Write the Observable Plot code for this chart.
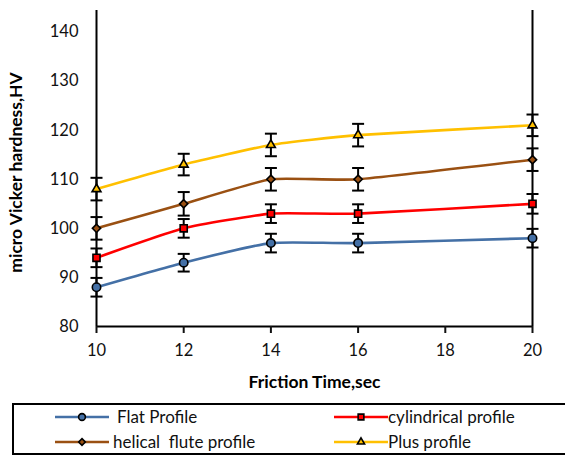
<!DOCTYPE html>
<html>
<head>
<meta charset="utf-8">
<script src="https://cdn.jsdelivr.net/npm/d3@7"></script>
<script src="https://cdn.jsdelivr.net/npm/@observablehq/plot@0.6"></script>
<style>
  body { margin: 0; background: #fff; font-family: Lato, "Open Sans", sans-serif; }
  #wrap { position: relative; width: 565px; height: 456px; overflow: hidden; background: #fff; }
  #chart { position: absolute; left: 0; top: 0; }
  #legend { position: absolute; left: 12px; top: 403px; width: 600px; height: 52px; box-sizing: border-box; border: 2px solid #000; }
  .item { position: absolute; height: 20px; }
  .item svg { position: absolute; top: 0; }
  .item span { position: absolute; top: 0; line-height: 20px; font-size: 17px; color: #111; white-space: pre; }
</style>
</head>
<body>
<div id="wrap">
  <div id="chart"></div>
  <div id="legend"></div>
</div>
<script>
// ---- data ----
const frictionTime = [10, 12, 14, 16, 20];
const seriesNames = ["Flat Profile", "cylindrical profile", "helical  flute profile", "Plus profile"];
const flatHV = [88, 93, 97, 97, 98];
const cylindricalHV = [94, 100, 103, 103, 105];
const helicalHV = [100, 105, 110, 110, 114];
const plusHV = [108, 113, 117, 119, 121];
const flatErr = [1.9, 1.8, 1.9, 1.9, 1.9];
const cylindricalErr = [1.9, 1.9, 1.9, 1.9, 2.0];
const helicalErr = [2.3, 2.4, 2.3, 2.3, 2.3];
const plusErr = [2.3, 2.2, 2.3, 2.3, 2.2];
const xTicks = [10, 12, 14, 16, 18, 20];
const yTicks = [80, 90, 100, 110, 120, 130, 140];

// ---- styles ----
const colors = ["#4470A6", "#FF0000", "#9A5012", "#FFC000"];
const symbols = ["circle", "square", "diamond2", "triangle"];
const radii = [4.2, 4, 3.7, 3.3];

const values = [flatHV, cylindricalHV, helicalHV, plusHV];
const errs = [flatErr, cylindricalErr, helicalErr, plusErr];
const rows = [];
seriesNames.forEach((s, i) => frictionTime.forEach((t, j) =>
  rows.push({series: s, idx: i, x: t, y: values[i][j], err: errs[i][j]})));

const capSymbol = { draw(ctx) { ctx.moveTo(-6, 0); ctx.lineTo(6, 0); } };

const font = "Lato, 'Open Sans', sans-serif";

const marks = [
  Plot.ruleX([10, 20], {y1: 80, y2: 144.4, stroke: "#000", strokeWidth: 2}),
  Plot.ruleY([80], {stroke: "#000", strokeWidth: 2}),
  Plot.axisX({ticks: xTicks, tickSize: 7, tickPadding: 11, fontSize: 16.5, label: null, strokeWidth: 2, tickFormat: d => String(d)}),
  Plot.axisY({ticks: yTicks, tickSize: 0, tickPadding: 18, fontSize: 16.5, label: null}),
  Plot.line(rows, {x: "x", y: "y", z: "series", stroke: "series", strokeWidth: 2.6, curve: "cardinal", tension: 0.5}),
  Plot.ruleX(rows, {x: "x", y1: d => d.y - d.err, y2: d => d.y + d.err, stroke: "#000", strokeWidth: 2}),
  Plot.dot(rows, {x: "x", y: d => d.y + d.err, symbol: capSymbol, stroke: "#000", strokeWidth: 2, fill: "none", r: 3}),
  Plot.dot(rows, {x: "x", y: d => d.y - d.err, symbol: capSymbol, stroke: "#000", strokeWidth: 2, fill: "none", r: 3})
];
seriesNames.forEach((s, i) => {
  marks.push(Plot.dot(rows.filter(d => d.idx === i), {
    x: "x", y: "y", symbol: symbols[i], r: radii[i],
    fill: colors[i], stroke: "#000", strokeWidth: 1.6
  }));
});
marks.push(
  Plot.text(["micro Vicker hardness,HV"], {frameAnchor: "left", dx: -80, dy: 4, rotate: -90, text: d => d, fontWeight: "bold", fontSize: 17.5, fill: "#000", textAnchor: "middle"}),
  Plot.text(["Friction Time,sec"], {frameAnchor: "bottom", dy: 56, text: d => d, fontWeight: "bold", fontSize: 17.5, fill: "#000", lineAnchor: "middle"})
);

const chart = Plot.plot({
  width: 565,
  height: 395,
  marginLeft: 96,
  marginRight: 33,
  marginTop: 10,
  marginBottom: 69,
  style: {fontFamily: font, color: "#111", background: "#fff"},
  x: {domain: [10, 20]},
  y: {domain: [80, 144.4]},
  color: {domain: seriesNames, range: colors},
  marks
});
document.getElementById("chart").appendChild(chart);

// ---- legend ----
const legend = document.getElementById("legend");
const legendPos = [
  {left: 41, top: 2, textLeft: 103},
  {left: 320, top: 2, textLeft: 374},
  {left: 41, top: 27, textLeft: 99},
  {left: 320, top: 27, textLeft: 374}
];
seriesNames.forEach((s, i) => {
  const p = legendPos[i];
  const div = document.createElement("div");
  div.className = "item";
  div.style.left = "0px";
  div.style.top = p.top + "px";
  div.style.width = "560px";
  const svg = d3.create("svg").attr("width", 56).attr("height", 20).style("left", p.left + "px");
  svg.append("line").attr("x1", 0).attr("x2", 54).attr("y1", 10).attr("y2", 10)
    .attr("stroke", colors[i]).attr("stroke-width", 2.6);
  const sym = {circle: d3.symbolCircle, square: d3.symbolSquare, diamond2: d3.symbolDiamond2, triangle: d3.symbolTriangle}[symbols[i]];
  svg.append("path").attr("d", d3.symbol(sym, Math.PI * radii[i] * radii[i] * 0.65)())
    .attr("transform", "translate(27,10)").attr("fill", colors[i]).attr("stroke", "#000").attr("stroke-width", 1.6);
  div.appendChild(svg.node());
  const span = document.createElement("span");
  span.style.left = p.textLeft + "px";
  span.textContent = s;
  div.appendChild(span);
  legend.appendChild(div);
});
</script>
</body>
</html>
